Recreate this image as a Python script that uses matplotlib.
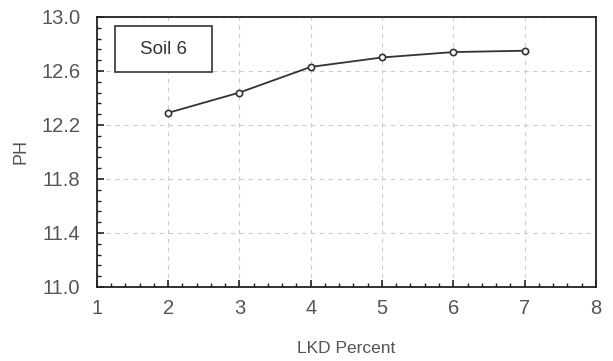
import numpy as np
import matplotlib
matplotlib.use('Agg')
import matplotlib.pyplot as plt
from matplotlib.patches import Rectangle
from matplotlib.ticker import MultipleLocator, FixedLocator, FormatStrFormatter

plt.rcParams['font.family'] = ['Liberation Sans', 'DejaVu Sans']

# data
lkd = [2, 3, 4, 5, 6, 7]
ph = [12.29, 12.44, 12.63, 12.70, 12.74, 12.75]
y_ticks = [11.0, 11.4, 11.8, 12.2, 12.6, 13.0]

fig = plt.figure(figsize=(6.13, 3.61), dpi=100)
ax = fig.add_axes([0.158, 0.205, 0.814, 0.748])

ax.plot(lkd, ph, color='#333333', lw=1.3, marker='o', ms=4.5,
        mfc='white', mec='#333333', mew=1.2, zorder=3)

ax.set_xlim(1, 8)
ax.set_ylim(11.0, 13.0)
ax.xaxis.set_major_locator(MultipleLocator(1))
ax.xaxis.set_minor_locator(MultipleLocator(0.2))
ax.yaxis.set_major_locator(FixedLocator(y_ticks))
ax.yaxis.set_minor_locator(FixedLocator(np.arange(11.0, 13.001, 0.08)))
ax.yaxis.set_major_formatter(FormatStrFormatter('%.1f'))
ax.tick_params(which='both', direction='in', top=False, right=False,
               colors='#222222', labelcolor='#555555', labelsize=14.5)
ax.tick_params(axis='x', which='major', length=5, width=1.2, pad=9)
ax.tick_params(axis='y', which='major', length=5, width=1.2, pad=12)
ax.tick_params(which='minor', length=3, width=1.0)
ax.grid(True, which='major', ls=(0, (4, 4)), color='#cccccc', lw=0.8)
for s in ax.spines.values():
    s.set_color('#222222')
    s.set_linewidth(1.3)

ax.set_xlabel('LKD Percent', fontsize=12.5, color='#555555', labelpad=16)
ax.set_ylabel('PH', fontsize=13, color='#555555', labelpad=8)

# label box
ax.add_patch(Rectangle((0.036, 0.795), 0.194, 0.17, transform=ax.transAxes,
                       fc='white', ec='#333333', lw=1.2, zorder=4))
ax.text(0.133, 0.88, 'Soil 6', transform=ax.transAxes, ha='center', va='center',
        fontsize=13.5, color='#333333', zorder=5)

fig.savefig('out.png', dpi=100)
